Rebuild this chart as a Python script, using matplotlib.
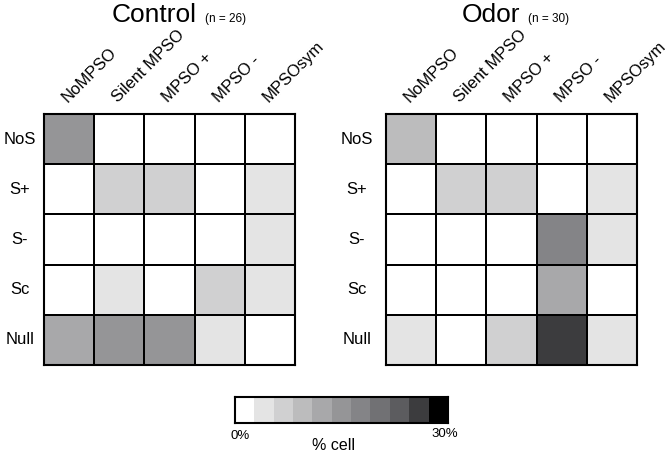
import matplotlib.pyplot as plt
import numpy as np
from matplotlib.colors import ListedColormap, BoundaryNorm

plt.rcParams['font.family'] = ['Liberation Sans', 'DejaVu Sans']

# 数据（% cell）
cols = ['NoMPSO', 'Silent MPSO', 'MPSO +', 'MPSO -', 'MPSOsym']
rows = ['NoS', 'S+', 'S-', 'Sc', 'Null']

control = np.array([
    [15.4, 0, 0, 0, 0],
    [0, 7.7, 7.7, 0, 3.8],
    [0, 0, 0, 0, 3.8],
    [0, 3.8, 0, 7.7, 3.8],
    [11.5, 15.4, 15.4, 3.8, 0],
])
odor = np.array([
    [10.0, 0, 0, 0, 0],
    [0, 6.7, 6.7, 0, 3.3],
    [0, 0, 0, 16.7, 3.3],
    [0, 0, 0, 13.3, 0],
    [3.3, 0, 6.7, 26.7, 3.3],
])
n_control = 26
n_odor = 30

# 灰度色阶（11 级，0–30%）
grays = ['#ffffff', '#e4e4e4', '#d0d0d1', '#bcbcbd', '#a8a8aa', '#959597',
         '#848487', '#717174', '#5c5c5f', '#3c3c3e', '#000000']
cmap = ListedColormap(grays)
bounds = np.linspace(0, 30, len(grays) + 1)
norm = BoundaryNorm(bounds, cmap.N)

W, H = 672, 455
fig = plt.figure(figsize=(W / 100, H / 100), dpi=100)

def draw_panel(left_px, data, name, n, title_right_px, label_cx_px):
    ax = fig.add_axes([left_px / W, 0.198, 251 / W, 0.5516])
    ax.pcolormesh(np.arange(6) - 0.5, np.arange(6) - 0.5, data, cmap=cmap, norm=norm,
                  edgecolors='black', linewidth=1.3)
    ax.set_xlim(-0.5, 4.5)
    ax.set_ylim(4.5, -0.5)
    ax.set_xticks([])
    ax.set_yticks([])
    for s in ax.spines.values():
        s.set_linewidth(1.5)
    # 行标签
    for i, r in enumerate(rows):
        fig.text(label_cx_px / W, 1 - (114 + 25 + 50.2 * i) / H, r,
                 fontsize=12, ha='center', va='center')
    # 列标签
    for j, c in enumerate(cols):
        ax.text(j - 0.02, -0.72, c, rotation=45, rotation_mode='anchor',
                ha='left', va='baseline', fontsize=12)
    # 标题
    fig.text(title_right_px / W, 1 - 15 / H, name, fontsize=19, ha='right', va='center')
    fig.text((title_right_px + 8) / W, 1 - 19 / H, f'(n = {n})', fontsize=8.5,
             ha='left', va='center')
    return ax

draw_panel(44, control, 'Control', n_control, 197, 20)
draw_panel(386, odor, 'Odor', n_odor, 520, 357)

# 色条
cax = fig.add_axes([235 / W, 0.0703, 213 / W, 0.0571])
levels = (bounds[:-1] + bounds[1:]) / 2
cax.imshow(levels[np.newaxis, :], cmap=cmap, norm=norm, aspect='auto')
cax.set_xticks([])
cax.set_yticks([])
for s in cax.spines.values():
    s.set_linewidth(1.5)
fig.text(240 / W, 1 - 436 / H, '0%', fontsize=9.5, ha='center', va='center')
fig.text(445 / W, 1 - 434 / H, '30%', fontsize=9.5, ha='center', va='center')
fig.text(333 / W, 1 - 446 / H, '% cell', fontsize=11.5, ha='center', va='center')

plt.savefig('out.png', dpi=100)
